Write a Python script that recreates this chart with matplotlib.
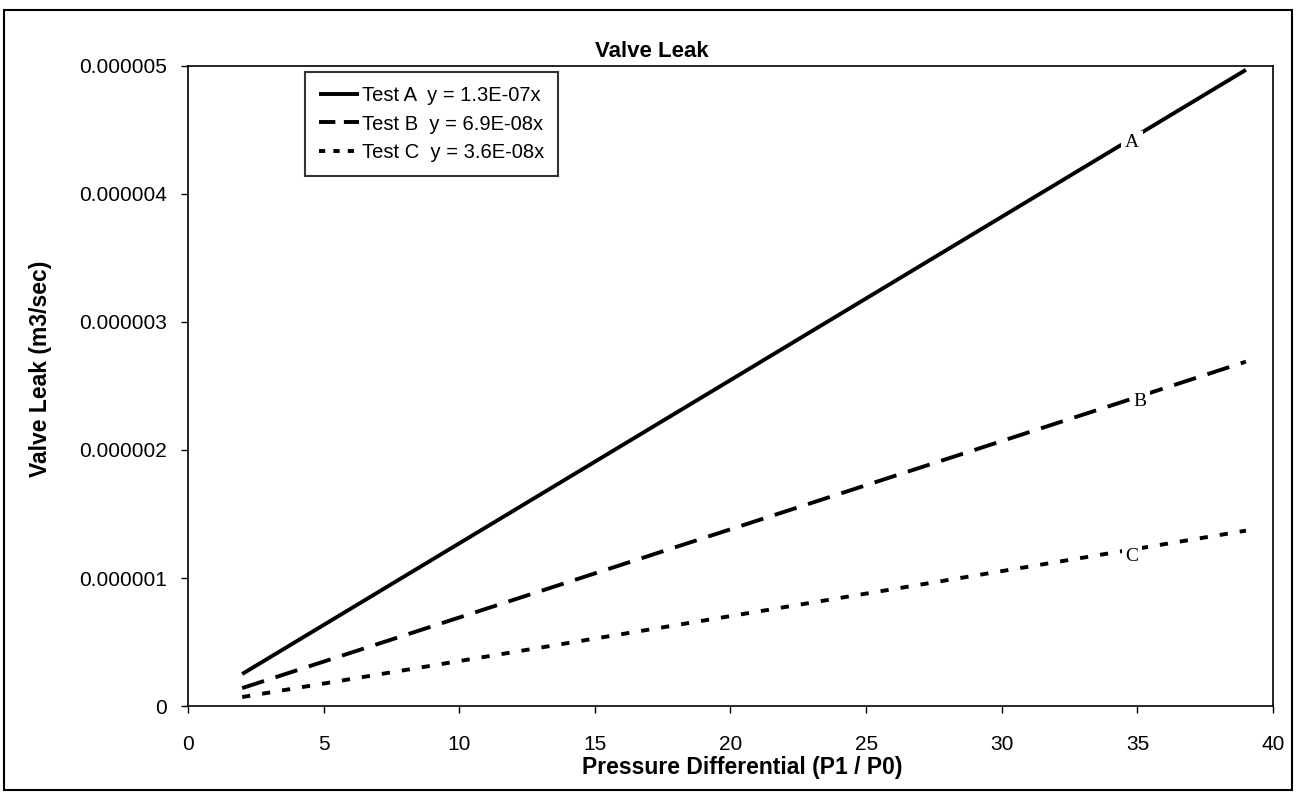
#!/usr/bin/env python3

import matplotlib
matplotlib.use("Agg")
import matplotlib.pyplot as plt
import matplotlib.patches as patches
import matplotlib.lines as lines

# data
PRESSURE = [2, 39]
LEAK_A = [0.25e-6, 4.97e-6]
LEAK_B = [0.14e-6, 2.69e-6]
LEAK_C = [0.07e-6, 1.37e-6]
SERIES_NAMES = ["Test A  y = 1.3E-07x", "Test B  y = 6.9E-08x", "Test C  y = 3.6E-08x"]
CURVE_TAGS = ["A", "B", "C"]
TAG_X = [34.8, 35.1, 34.8]
TAG_Y = [4.40e-6, 2.38e-6, 1.17e-6]
X_TICKS = [0, 5, 10, 15, 20, 25, 30, 35, 40]
Y_TICKS = [0, 1e-6, 2e-6, 3e-6, 4e-6, 5e-6]
Y_TICK_LABELS = ["0", "0.000001", "0.000002", "0.000003", "0.000004", "0.000005"]

plt.rcParams["font.family"] = ["Liberation Sans", "DejaVu Sans"]

fig = plt.figure(figsize=(12.96, 7.93), dpi=100)
ax = fig.add_axes([0.1450, 0.1097, 0.8373, 0.8071])

LW = 2.8
styles = ["-", (0, (5.9, 3.1)), (0, (2.1, 3.1))]
legend_styles = ["-", (0, (4.2, 2.2)), (0, (1.6, 2.1))]
handles = []
for vals, ls, lls, name in zip([LEAK_A, LEAK_B, LEAK_C], styles, legend_styles, SERIES_NAMES):
    ax.plot(PRESSURE, vals, color="black", linewidth=LW, linestyle=ls,
            solid_capstyle="butt", dash_capstyle="butt")
    handles.append(lines.Line2D([], [], color="black", linewidth=LW, linestyle=lls,
                                solid_capstyle="butt", dash_capstyle="butt", label=name))

# inline curve tags
for tag, tx, ty in zip(CURVE_TAGS, TAG_X, TAG_Y):
    ax.text(tx, ty, tag, family=["Liberation Serif", "DejaVu Serif"], fontsize=14,
            ha="center", va="center", zorder=5,
            bbox=dict(facecolor="white", edgecolor="none", pad=2.5))

ax.set_xlim(0, 40)
ax.set_ylim(0, 5e-6)
ax.set_xticks(X_TICKS)
ax.set_yticks(Y_TICKS)
ax.set_yticklabels(Y_TICK_LABELS)

ax.tick_params(axis="x", direction="out", length=5, width=1, pad=16, labelsize=15)
ax.tick_params(axis="y", direction="out", length=5, width=1, pad=10, labelsize=15)

for s in ax.spines.values():
    s.set_linewidth(1.2)
    s.set_color("black")

# legend
leg = ax.legend(handles=handles, loc="upper left", bbox_to_anchor=(0.108, 0.99),
                fontsize=14.5, frameon=True, fancybox=False, handlelength=2.0,
                handletextpad=0.1, labelspacing=0.45, borderpad=0.7, borderaxespad=0)
leg.get_frame().set_edgecolor("black")
leg.get_frame().set_linewidth(1.5)

# titles
fig.text(0.503, 0.935, "Valve Leak", ha="center", va="center", fontsize=16,
         fontweight="bold")
fig.text(0.5725, 0.032, "Pressure Differential (P1 / P0)", ha="center", va="center",
         fontsize=16.5, fontweight="bold")
fig.text(0.031, 0.535, "Valve Leak (m3/sec)", ha="center", va="center",
         fontsize=16.5, fontweight="bold", rotation=90)

# outer chart border
fig.patches.append(patches.Rectangle((0.003, 0.004), 0.994, 0.984, transform=fig.transFigure,
                                     fill=False, edgecolor="black", linewidth=1.5))

plt.savefig("out.png", dpi=100)
